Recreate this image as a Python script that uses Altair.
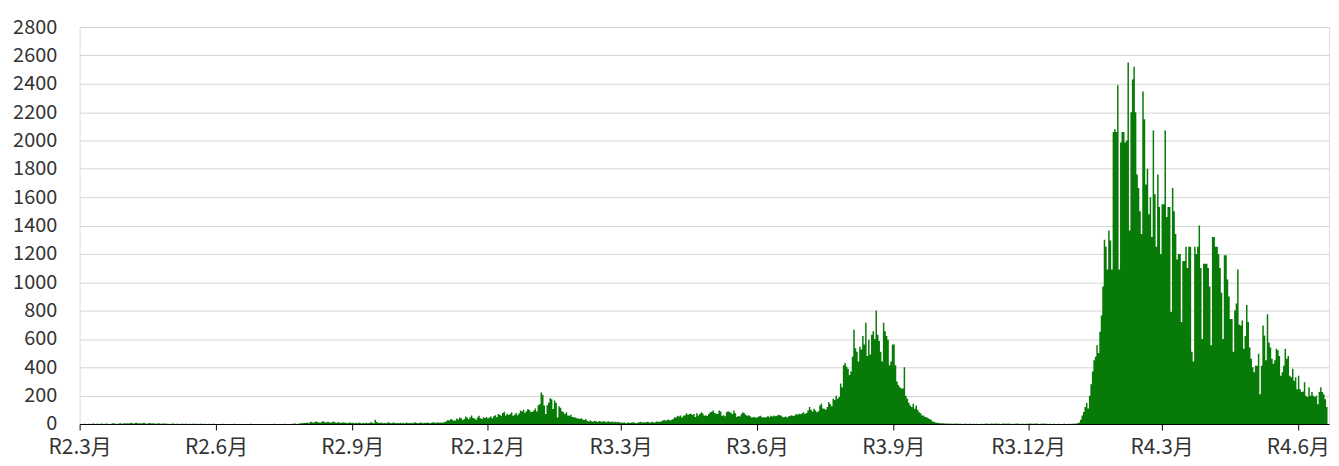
import altair as alt
import pandas as pd

# Daily counts, one list per month
m2020_03 = [0,0,0,1,0,0,2,0,1,3, 0,2,1,0,4,2,0,1,3,0, 0,2,5,3,1,0,4,6,2,3, 5]
m2020_04 = [4,6,3,8,5,2,7,9,4,6, 3,5,8,4,2,6,7,3,5,4, 2,3,5,1,2,4,3,1,2,0]
m2020_05 = [2,1,3,0,2,1,0,2,1,0, 1,2,0,1,0,2,1,0,1,0, 2,1,0,1,0,0,1,0,0,1, 0]
m2020_06 = [0,0,0,0,1,0,0,0,0,0, 0,0,1,0,0,0,0,0,0,0, 0,0,0,1,0,0,0,0,0,0]
m2020_07 = [0,0,0,0,0,0,0,0,0,1, 0,0,0,0,0,0,1,0,0,0, 0,2,1,3,0,2,4,6,5,8, 7]
m2020_08 = [10,6,12,15,9,13,17,14,11,8, 16,19,12,10,15,13,9,14,18,11, 8,12,10,7,13,9,11,6,8,10, 7]
m2020_09 = [9,6,8,5,10,7,4,8,6,9, 5,7,12,8,6,30,14,9,7,10, 6,8,5,9,12,7,6,10,8,5]
m2020_10 = [7,5,9,6,8,4,10,7,5,8, 6,9,12,7,5,8,10,6,9,7, 11,8,6,9,12,10,7,13,9,11, 8]
m2020_11 = [10,14,20,28,24,35,30,22,25,38, 32,45,40,28,36,52,44,34,48,60, 42,38,30,45,58,40,35,47,42,50]
m2020_12 = [38,45,52,40,55,62,48,70,66,58, 78,87,60,72,64,70,82,58,66,78, 62,74,96,88,100,80,92,106,98,84, 87]
m2021_01 = [95,110,88,132,140,223,207,130,70,132, 150,181,175,105,165,150,45,125,115,90, 82,70,82,60,58,65,50,47,45,40, 38]
m2021_02 = [36,40,32,28,35,22,18,25,20,16, 23,19,14,21,18,15,20,17,13,19, 16,14,18,12,15,13,16,11]
m2021_03 = [10,8,12,6,9,11,7,10,13,8, 6,9,12,15,10,13,11,14,16,9, 12,15,10,13,18,16,14,20,24,28, 22]
m2021_04 = [28,32,25,30,35,48,45,58,52,60, 45,58,62,75,66,70,72,64,70,50, 75,60,70,82,74,58,62,56,70,82]
m2021_05 = [86,95,78,72,70,95,88,58,62,55, 82,90,85,80,70,95,76,50,56,52, 70,82,75,66,58,62,54,45,48,50, 44]
m2021_06 = [48,55,58,45,50,44,50,56,48,58, 52,60,55,58,65,62,58,48,50,52, 46,55,58,62,56,60,70,66,72,68]
m2021_07 = [75,82,70,78,95,120,100,88,108,96, 83,90,130,143,110,107,100,120,155,140, 125,178,170,200,178,190,285,260,415,430, 405]
m2021_08 = [390,345,370,475,665,535,510,440,545,525, 620,560,715,480,595,490,630,655,600,800, 630,585,510,440,715,655,620,595,415,440, 560]
m2021_09 = [560,415,300,275,260,250,250,400,200,178, 150,130,120,143,107,130,100,83,75,60, 60,50,48,40,36,30,17,15,10,8]
m2021_10 = [7,6,5,5,4,3,4,2,3,2, 1,2,3,1,2,1,0,2,1,1, 0,1,2,0,1,0,1,0,0,1, 0]
m2021_11 = [2,1,3,0,2,4,1,2,3,1, 2,0,1,3,2,1,4,2,1,0, 2,1,3,1,0,2,1,0,1,2]
m2021_12 = [1,3,2,1,2,4,1,0,2,1, 3,2,1,0,1,0,0,1,0,0, 1,0,0,0,1,0,0,1,0,1, 2]
m2022_01 = [2,3,5,10,30,60,85,120,150,110, 200,280,370,450,475,555,500,650,765,970, 1300,1250,1090,1365,1295,1090,2060,2080,2060,2390, 1090]
m2022_02 = [1985,2060,2060,1985,2000,2550,1365,2200,2430,2520, 2200,1760,1665,1500,1340,2345,2150,1690,1800,1480, 1600,1320,2070,1620,1250,1760,1530,1200]
m2022_03 = [1550,1550,2070,1460,1530,1530,790,1665,1500,1340, 1160,1200,1200,720,1150,1150,1250,1100,1250,1250, 510,440,1250,1200,1250,1400,1100,600,1130,1130, 1130]
m2022_04 = [1100,970,556,1320,1320,1250,1250,1200,1100,926, 600,1190,1190,1020,900,740,740,510,800,850, 1090,700,695,730,530,620,840,720,540,460]
m2022_05 = [400,365,410,410,495,210,410,695,625,450, 775,575,540,460,425,450,530,520,480,340, 365,410,530,460,480,340,330,390,305,330, 245]
m2022_06 = [340,245,225,230,295,200,190,260,200,225, 200,190,200,140,225,260,225,210,175,120, 110]

start_date = "2020-03-01"
end_date = "2022-06-22"

y_ticks = [0, 200, 400, 600, 800, 1000, 1200, 1400, 1600, 1800, 2000, 2200, 2400, 2600, 2800]
tick_dates = ["2020-03-01", "2020-06-01", "2020-09-01", "2020-12-01", "2021-03-01",
              "2021-06-01", "2021-09-01", "2021-12-01", "2022-03-01", "2022-06-01"]
tick_labels = ["R2.3月", "R2.6月", "R2.9月", "R2.12月", "R3.3月",
               "R3.6月", "R3.9月", "R3.12月", "R4.3月", "R4.6月"]

months = [m2020_03, m2020_04, m2020_05, m2020_06, m2020_07, m2020_08, m2020_09,
          m2020_10, m2020_11, m2020_12, m2021_01, m2021_02, m2021_03, m2021_04,
          m2021_05, m2021_06, m2021_07, m2021_08, m2021_09, m2021_10, m2021_11,
          m2021_12, m2022_01, m2022_02, m2022_03, m2022_04, m2022_05, m2022_06]
values = [v for m in months for v in m]
dates = pd.date_range(start_date, periods=len(values), freq="D")
df = pd.DataFrame({"date": dates.strftime("%Y-%m-%d"), "cases": values})

def ms(d):
    return int(pd.Timestamp(d, tz="UTC").value // 10**6)

tick_ms = [ms(d) for d in tick_dates]
label_expr = " : ".join(
    f"toNumber(datum.value) == {t} ? '{l}'" for t, l in zip(tick_ms, tick_labels)
) + " : ''"

FONT = "Noto Sans CJK JP"

chart = alt.Chart(df).mark_area(
    interpolate="step-after", color="#087a08"
).encode(
    x=alt.X(
        "date:T",
        scale=alt.Scale(type="utc", domain=[ms(start_date), ms(end_date)]),
        axis=alt.Axis(
            values=tick_ms, labelExpr=label_expr, title=None, grid=False,
            domainColor="#000000", domainWidth=1, tickColor="#000000",
            tickSize=6, labelPadding=7, labelFontSize=21, labelFont=FONT,
            labelColor="#333333", labelFlush=False, labelOverlap=False, zindex=1,
        ),
    ),
    y=alt.Y(
        "cases:Q",
        scale=alt.Scale(domain=[0, 2800], nice=False),
        axis=alt.Axis(
            values=y_ticks, format="d", title=None, grid=True, gridColor="#d4d4d4",
            domain=False, ticks=False, labelPadding=23, labelFontSize=20,
            labelFont=FONT, labelColor="#333333",
        ),
    ),
).properties(
    width=1256, height=399,
    autosize=alt.AutoSizeParams(type="none"),
    padding={"left": 72, "top": 18, "right": 2, "bottom": 34},
).configure_view(stroke=None).configure(background="white")

chart.save("out.html", embed_options={"renderer": "svg", "actions": False})
